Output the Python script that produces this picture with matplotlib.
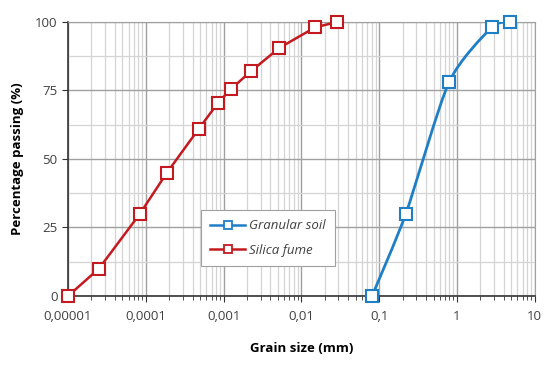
import numpy as np
import matplotlib.pyplot as plt
from matplotlib.path import Path
from matplotlib.patches import PathPatch
from matplotlib.lines import Line2D
from matplotlib.ticker import FixedLocator, LogLocator, NullFormatter

# values
soil_size = [0.081, 0.22, 0.79, 2.8, 4.8]
soil_pass = [0, 30, 78, 98, 100]
silica_size = [1e-5, 2.5e-5, 8.4e-5, 1.87e-4, 4.8e-4, 8.5e-4, 1.24e-3, 2.25e-3, 5.2e-3, 1.5e-2, 2.9e-2]
silica_pass = [0, 10, 30, 45, 61, 70.5, 75.5, 82, 90.5, 98, 100]
x_ticks = [1e-5, 1e-4, 1e-3, 1e-2, 1e-1, 1, 10]
x_labels = ["0,00001", "0,0001", "0,001", "0,01", "0,1", "1", "10"]
y_ticks = [0, 25, 50, 75, 100]

BLUE = "#1f7fc6"
RED = "#c41a1f"
plt.rcParams["font.family"] = ["Open Sans", "DejaVu Sans"]


def smooth_path(xs, ys, t=0.12):
    # smoothed line: cubic bezier through the points in log-x space
    lx = np.log10(xs)
    y = np.asarray(ys, float)
    n = len(lx)
    verts, codes = [(xs[0], y[0])], [Path.MOVETO]
    for i in range(n - 1):
        p0 = (lx[max(i - 1, 0)], y[max(i - 1, 0)])
        p1 = (lx[i], y[i])
        p2 = (lx[i + 1], y[i + 1])
        p3 = (lx[min(i + 2, n - 1)], y[min(i + 2, n - 1)])
        c1 = (p1[0] + (p2[0] - p0[0]) * t, p1[1] + (p2[1] - p0[1]) * t)
        c2 = (p2[0] - (p3[0] - p1[0]) * t, p2[1] - (p3[1] - p1[1]) * t)
        for c in (c1, c2, p2):
            verts.append((10 ** c[0], c[1]))
            codes.append(Path.CURVE4)
    return Path(verts, codes)


fig = plt.figure(figsize=(5.44, 3.65), dpi=100)
ax = fig.add_axes([0.125, 0.189, 0.858, 0.751])
ax.set_xscale("log")
ax.set_xlim(1e-5, 10)
ax.set_ylim(0, 100)

ax.add_patch(PathPatch(smooth_path(soil_size, soil_pass), fill=False,
                       edgecolor=BLUE, lw=2, zorder=3))
ax.plot(soil_size, soil_pass, ls="none", marker="s", ms=8, mfc="white",
        mec=BLUE, mew=1.5, zorder=4, clip_on=False)
ax.plot(silica_size, silica_pass, color=RED, lw=1.8, marker="s", ms=8,
        mfc="white", mec=RED, mew=1.5, zorder=4, clip_on=False)

ax.xaxis.set_major_locator(FixedLocator(x_ticks))
ax.set_xticklabels(x_labels)
ax.xaxis.set_minor_locator(LogLocator(base=10, subs=np.arange(2, 10), numticks=20))
ax.xaxis.set_minor_formatter(NullFormatter())
ax.set_yticks(y_ticks)
ax.set_yticks([12.5, 37.5, 62.5, 87.5], minor=True)

ax.grid(True, which="major", color="#a0a0a0", lw=1.0)
ax.grid(True, which="minor", color="#d4d4d4", lw=0.9)
ax.set_axisbelow(True)
for s in ["top", "right"]:
    ax.spines[s].set_color("#a0a0a0")
for s in ["left", "bottom"]:
    ax.spines[s].set_color("#333333")
    ax.spines[s].set_linewidth(1.2)
ax.tick_params(axis="both", which="major", direction="out", length=4,
               color="#333333", labelsize=9.5, labelcolor="#404040")
ax.tick_params(axis="x", which="minor", direction="out", length=3, color="#333333")
ax.tick_params(axis="y", which="minor", length=0)
ax.tick_params(axis="x", which="major", pad=6)

ax.set_xlabel("Grain size (mm)", fontsize=9.5, fontweight="bold", labelpad=14)
ax.set_ylabel("Percentage passing (%)", fontsize=9.5, fontweight="bold", labelpad=8)

handles = [
    Line2D([], [], color=BLUE, lw=1.8, marker="s", ms=6, mfc="white", mec=BLUE, mew=1.3),
    Line2D([], [], color=RED, lw=1.8, marker="s", ms=6, mfc="white", mec=RED, mew=1.3),
]
leg = ax.legend(handles, ["Granular soil", "Silica fume"], loc="lower left",
                bbox_to_anchor=(0.284, 0.11), fancybox=False, framealpha=1,
                edgecolor="#a0a0a0", prop={"style": "italic", "size": 9.5},
                handlelength=2.7, handletextpad=0.3, borderpad=0.7,
                labelspacing=0.85, borderaxespad=0)
leg.get_frame().set_linewidth(0.8)
for t in leg.get_texts():
    t.set_color("#404040")

fig.savefig("out.png", dpi=100)
